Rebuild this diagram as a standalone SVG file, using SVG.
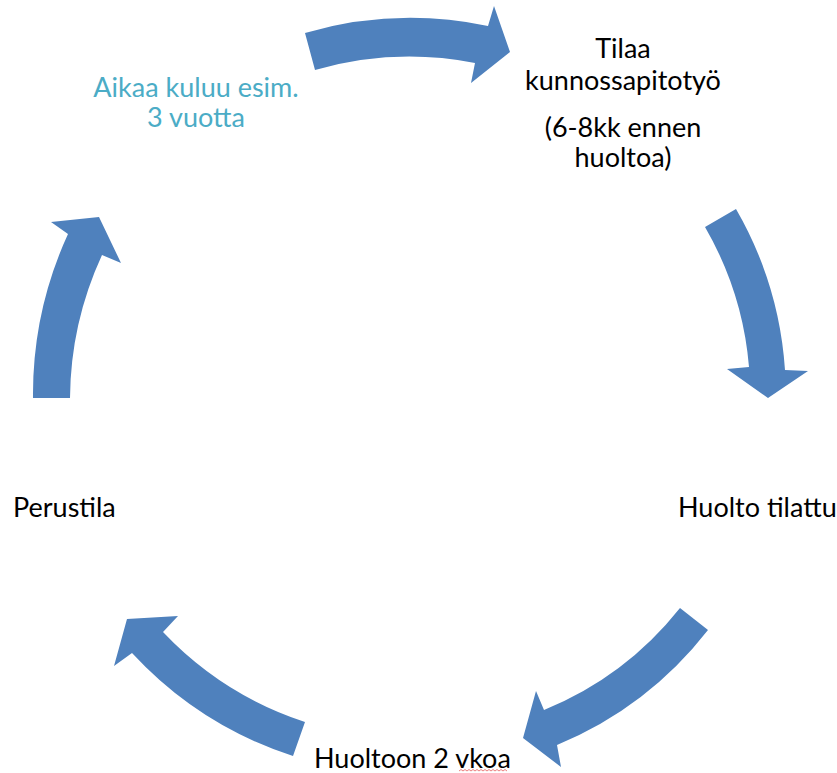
<svg xmlns="http://www.w3.org/2000/svg" width="837" height="773" viewBox="0 0 837 773">
<style>
  .arrow { fill: #4F81BD; stroke: none; }
  .lbl { font-family: Lato, "Liberation Sans", sans-serif; font-size: 27px; fill: #000000; }
  .note { font-family: Lato, "Liberation Sans", sans-serif; font-size: 27px; fill: #4BACC6; }
</style>
<rect width="837" height="773" fill="#ffffff"/>
<g id="connectors">
  <path id="arrow-top" class="arrow" d="M 305,33 A 380 380 0 0 1 488,26 L 494,6 L 510,52 L 471,83 L 475,63 A 343 343 0 0 0 315,70 Z"/>
  <path id="arrow-right" class="arrow" d="M 736,209 A 372 372 0 0 1 785,370 L 808,371 L 768,398 L 727,369 L 749,367 A 335 335 0 0 0 705,227 Z"/>
  <path id="arrow-bottom-right" class="arrow" d="M 708,630 A 371 371 0 0 1 557,745 L 561,767 L 523,738 L 536,691 L 544,710 A 335 335 0 0 0 680,608 Z"/>
  <path id="arrow-bottom-left" class="arrow" d="M 293,756 A 379 379 0 0 1 132,653 L 114,666 L 127,619 L 178,616 L 163,632 A 343 343 0 0 0 305,722 Z"/>
  <path id="arrow-left" class="arrow" d="M 33,398 A 385 385 0 0 1 68,234 L 51,222 L 99,217 L 121,263 L 102,255 A 348 348 0 0 0 70,398 Z"/>
</g>
<g id="node-tilaa">
  <text class="lbl" text-anchor="middle" x="623" y="58">Tilaa</text>
  <text class="lbl" text-anchor="middle" x="623" y="90">kunnossapitotyö</text>
  <text class="lbl" text-anchor="middle" x="623" y="137">(6-8kk ennen</text>
  <text class="lbl" text-anchor="middle" x="623" y="167">huoltoa)</text>
</g>
<g id="node-huolto-tilattu">
  <text class="lbl" x="678" y="517">Huolto tilattu</text>
</g>
<g id="node-huoltoon">
  <text class="lbl" x="314" y="768">Huoltoon 2 vkoa</text>
  <path d="M 459,771 l 2,-1.5 l 2,1.5 l 2,-1.5 l 2,1.5 l 2,-1.5 l 2,1.5 l 2,-1.5 l 2,1.5 l 2,-1.5 l 2,1.5 l 2,-1.5 l 2,1.5 l 2,-1.5 l 2,1.5 l 2,-1.5 l 2,1.5 l 2,-1.5 l 2,1.5 l 2,-1.5 l 2,1.5 l 2,-1.5 l 2,1.5 l 2,-1.5 l 2,1.5" fill="none" stroke="#E8605F" stroke-width="0.8"/>
</g>
<g id="node-perustila">
  <text class="lbl" x="13" y="517">Perustila</text>
</g>
<g id="node-aikaa">
  <text class="note" text-anchor="middle" x="196" y="97">Aikaa kuluu esim.</text>
  <text class="note" text-anchor="middle" x="196" y="127">3 vuotta</text>
</g>
</svg>
